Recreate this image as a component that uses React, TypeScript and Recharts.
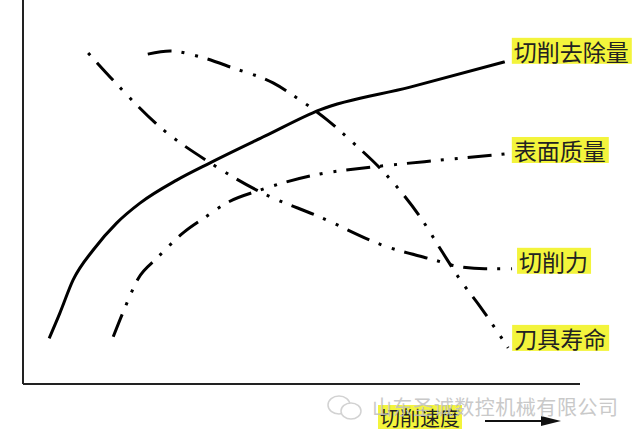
import React from "react";
import { LineChart, Line, XAxis, YAxis, ReferenceLine } from "recharts";

const removalX = [4.7, 6.6, 9.0, 12.6, 16.8, 21.0, 27.6, 33.6, 43.5, 53.3, 69.5, 86.5];
const removalY = [11.9, 18.4, 27.1, 34.9, 41.9, 47.1, 53.1, 57.6, 64.6, 71.4, 77.3, 83.9];

const surfaceX = [16.2, 18.0, 20.7, 24.0, 28.8, 32.7, 36.5, 42.6, 53.3, 62.8, 74.9, 86.5];
const surfaceY = [12.3, 18.8, 27.5, 32.7, 39.4, 43.4, 47.1, 50.5, 54.7, 56.5, 58.3, 59.9];

const forceX = [11.7, 16.5, 24.6, 33.6, 42.6, 53.3, 65.4, 73.1, 78.5, 82.9, 87.8];
const forceY = [86.2, 78.6, 66.9, 57.6, 50.0, 43.5, 35.7, 32.6, 30.5, 30.0, 30.0];

const lifeX = [22.4, 26.4, 31.8, 37.7, 44.9, 49.7, 54.6, 59.3, 65.4, 71.3, 75.4, 78.5, 82.1, 87.1];
const lifeY = [85.9, 86.7, 85.2, 82.3, 78.4, 74.0, 68.8, 62.8, 54.2, 43.5, 34.1, 27.1, 20.1, 9.4];

const seriesNames = ["切削去除量", "表面质量", "切削力", "刀具寿命"];
const xAxisTitle = "切削速度";
const watermark = "山东圣诚数控机械有限公司";

const zip = (xs: number[], ys: number[]) => xs.map((x, i) => ({ x, y: ys[i] }));

const removalData = zip(removalX, removalY);
const surfaceData = zip(surfaceX, surfaceY);
const forceData = zip(forceX, forceY);
const lifeData = zip(lifeX, lifeY);

const FONT = '"Noto Sans CJK SC", "Noto Sans", sans-serif';
const YELLOW = "#f3f43c";

const endLabel = (name: string, count: number, dx: number, dy: number) =>
  (props: any) => {
    const { x, y, index } = props;
    if (index !== count - 1) return null;
    const lx = x + dx;
    const cy = y + dy;
    const w = name.length * 23 + 5;
    return (
      <g key={name}>
        <rect x={lx - 2} y={cy - 13} width={w} height={26} fill={YELLOW} />
        <text x={lx} y={cy} dominantBaseline="central" fontSize={23} fontFamily={FONT} fill="#222">
          {name}
        </text>
      </g>
    );
  };

const AxisTitle = (props: any) => {
  const vb = props.viewBox || { x: 23, y: 384, width: 557 };
  const bx = vb.x + 355;
  const by = vb.y + 21;
  return (
    <g>
      <rect x={bx} y={by} width={84} height={24} fill={YELLOW} />
      <text x={bx + 2} y={by + 12} dominantBaseline="central" fontSize={20} fontFamily={FONT} fill="#222">
        {xAxisTitle}
      </text>
      <line x1={vb.x + 462} y1={vb.y + 37} x2={vb.x + 520} y2={vb.y + 37} stroke="#111" strokeWidth={2} />
      <polygon
        points={`${vb.x + 518},${vb.y + 32} ${vb.x + 538},${vb.y + 37} ${vb.x + 518},${vb.y + 42}`}
        fill="#111"
      />
      <g opacity={0.75} stroke="#c4c4c4" strokeWidth={1.5} fill="#fff">
        <ellipse cx={vb.x + 316} cy={vb.y + 21} rx={11} ry={9} />
        <ellipse cx={vb.x + 328} cy={vb.y + 27} rx={10} ry={8} />
      </g>
      <text
        x={vb.x + 349}
        y={vb.y + 22}
        dominantBaseline="central"
        fontSize={20}
        fontFamily={FONT}
        fill="#c0c0c0"
        opacity={0.85}
        textLength={246}
      >
        {watermark}
      </text>
    </g>
  );
};

const dashPattern = "24 10 3 11 3 10";

export default function App() {
  return (
    <div style={{ position: "absolute", left: 0, top: 0, width: 640, height: 440, background: "#fff" }}>
      <LineChart width={640} height={440} margin={{ top: 0, right: 60, bottom: 56, left: 23 }}>
        <XAxis type="number" dataKey="x" domain={[0, 100]} allowDataOverflow hide />
        <YAxis type="number" dataKey="y" domain={[0, 100]} allowDataOverflow hide />
        <ReferenceLine x={0} stroke="#222" strokeWidth={2} ifOverflow="extendDomain" />
        <ReferenceLine y={0} stroke="#222" strokeWidth={2} ifOverflow="extendDomain" label={<AxisTitle />} />
        <Line
          data={removalData}
          dataKey="y"
          type="monotone"
          stroke="#000"
          strokeWidth={3}
          dot={false}
          isAnimationActive={false}
          label={endLabel(seriesNames[0], removalData.length, 9, -11)}
        />
        <Line
          data={surfaceData}
          dataKey="y"
          type="monotone"
          stroke="#000"
          strokeWidth={3}
          strokeDasharray={dashPattern}
          dot={false}
          isAnimationActive={false}
          label={endLabel(seriesNames[1], surfaceData.length, 9, -4)}
        />
        <Line
          data={forceData}
          dataKey="y"
          type="monotone"
          stroke="#000"
          strokeWidth={3}
          strokeDasharray={dashPattern}
          strokeDashoffset={48}
          dot={false}
          isAnimationActive={false}
          label={endLabel(seriesNames[2], forceData.length, 7, -8)}
        />
        <Line
          data={lifeData}
          dataKey="y"
          type="monotone"
          stroke="#000"
          strokeWidth={3}
          strokeDasharray={dashPattern}
          dot={false}
          isAnimationActive={false}
          label={endLabel(seriesNames[3], lifeData.length, 6, -10)}
        />
      </LineChart>
    </div>
  );
}
